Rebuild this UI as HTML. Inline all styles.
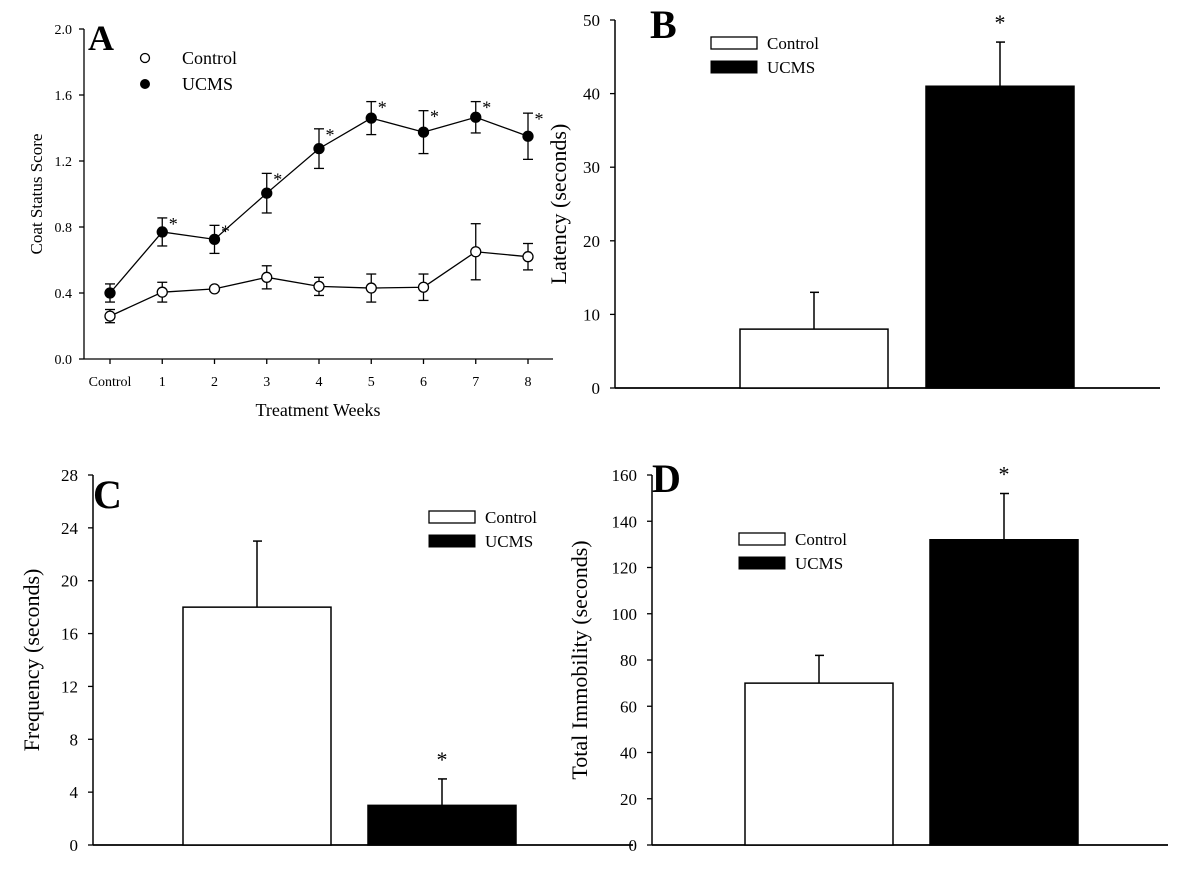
<!DOCTYPE html>
<html><head><meta charset="utf-8"><style>
html,body{margin:0;padding:0;background:#fff}
svg text{font-family:"Liberation Serif",serif;fill:#000}
</style></head><body>
<svg id="s" width="1200" height="874" xmlns="http://www.w3.org/2000/svg"></svg>
<script>
// Panel A data
const weeks = ["Control","1","2","3","4","5","6","7","8"];
const aTicks = [0.0,0.4,0.8,1.2,1.6,2.0];
const ctrlMean = [0.26,0.405,0.425,0.495,0.44,0.43,0.435,0.65,0.62];
const ctrlErr  = [0.04,0.06,0.015,0.07,0.055,0.085,0.08,0.17,0.08];
const ucmsMean = [0.40,0.77,0.725,1.005,1.275,1.46,1.375,1.465,1.35];
const ucmsErr  = [0.055,0.085,0.085,0.12,0.12,0.10,0.13,0.095,0.14];
const ucmsSig  = [false,true,true,true,true,true,true,true,true];
// Panel B
const bVals=[8,41], bErr=[5,6], bTicks=[0,10,20,30,40,50];
// Panel C
const cVals=[18,3], cErr=[5,2], cTicks=[0,4,8,12,16,20,24,28];
// Panel D
const dVals=[70,132], dErr=[12,20], dTicks=[0,20,40,60,80,100,120,140,160];

const NS="http://www.w3.org/2000/svg", S=document.getElementById('s');
function el(tag,attrs,parent,text){const e=document.createElementNS(NS,tag);for(const k in attrs)e.setAttribute(k,attrs[k]);if(text!==undefined)e.textContent=text;(parent||S).appendChild(e);return e;}
function line(x1,y1,x2,y2,p,w){return el('line',{x1,y1,x2,y2,stroke:'#000','stroke-width':w||1.3},p);}

// ---- Panel A ----
const gA=el('g',{});


const ax0=84, ay0=359, ay1=29, axEnd=553;
const xA=i=>110+i*52.25;
const yA=v=>ay0-(v/2.0)*(ay0-ay1);
line(ax0,ay1,ax0,ay0,gA);line(ax0,ay0,axEnd,ay0,gA);
aTicks.forEach(t=>{line(ax0-5,yA(t),ax0,yA(t),gA);const tx=el('text',{x:ax0-12,y:yA(t)+5,'font-size':14,'text-anchor':'end'},gA,t.toFixed(1));});
weeks.forEach((w,i)=>{line(xA(i),ay0,xA(i),ay0+5,gA);const tx=el('text',{x:xA(i),y:ay0+27,'font-size':14,'text-anchor':'middle'},gA,w);});
let t=el('text',{x:318,y:416,'font-size':18,'text-anchor':'middle'},gA,'Treatment Weeks');

t=el('text',{x:0,y:0,'font-size':17,'text-anchor':'middle',transform:'translate(42,194) rotate(-90)'},gA,'Coat Status Score');

function series(mean,err,fill,name){
  const g=el('g',{},gA);
  
  
  el('polyline',{points:mean.map((v,i)=>xA(i)+','+yA(v)).join(' '),fill:'none',stroke:'#000','stroke-width':1.3},g);
  mean.forEach((v,i)=>{const x=xA(i);line(x,yA(v+err[i]),x,yA(v-err[i]),g);line(x-5,yA(v+err[i]),x+5,yA(v+err[i]),g);line(x-5,yA(v-err[i]),x+5,yA(v-err[i]),g);});
  mean.forEach((v,i)=>{const c=el('circle',{cx:xA(i),cy:yA(v),r:5,fill:fill,stroke:'#000','stroke-width':1.3},g);});
  return g;
}
series(ctrlMean,ctrlErr,'#fff','control-series');
const gu=series(ucmsMean,ucmsErr,'#000','ucms-series');
ucmsMean.forEach((v,i)=>{if(ucmsSig[i]){const s=el('text',{x:xA(i)+11,y:yA(v+ucmsErr[i])+12,'font-size':18,'text-anchor':'middle'},gu,'*');}});
t=el('text',{x:88,y:50,'font-size':36,'font-weight':'bold'},gA,'A');
el('circle',{cx:145,cy:58,r:4.5,fill:'#fff',stroke:'#000','stroke-width':1.3},gA);
el('circle',{cx:145,cy:84,r:4.5,fill:'#000',stroke:'#000'},gA);
t=el('text',{x:182,y:64,'font-size':18},gA,'Control');
t=el('text',{x:182,y:90,'font-size':18},gA,'UCMS');

// ---- Bar panels ----
function barPanel(o){
  const g=el('g',{});
  
  
  const y=v=>o.y0-(v/o.max)*(o.y0-o.y1);
  line(o.x0,o.y1,o.x0,o.y0,g,1.5);line(o.x0,o.y0,o.xEnd,o.y0,g,1.8);
  o.ticks.forEach(tk=>{line(o.x0-5,y(tk),o.x0,y(tk),g);const tx=el('text',{x:o.x0-15,y:y(tk)+6,'font-size':17,'text-anchor':'end'},g,String(tk));});
  o.vals.forEach((v,i)=>{
    const bx=o.bx[i];
    const r=el('rect',{x:bx,y:y(v),width:148,height:o.y0-y(v),fill:i?'#000':'#fff',stroke:'#000','stroke-width':1.5},g);
    
    const cx=bx+74;
    line(cx,y(v),cx,y(v+o.err[i]),g,1.5);line(cx-4,y(v+o.err[i]),cx+5,y(v+o.err[i]),g,1.5);
    if(o.sig[i]){const s=el('text',{x:cx,y:y(v+o.err[i])-12,'font-size':22,'text-anchor':'middle'},g,'*');}
  });
  const tt=el('text',{x:0,y:0,'font-size':22,'text-anchor':'middle',transform:`translate(${o.titleX},${(o.y0+o.y1)/2}) rotate(-90)`},g,o.title);
  
  const pl=el('text',{x:o.labX,y:o.labY,'font-size':40,'font-weight':'bold'},g,o.label);
  
  el('rect',{x:o.legX,y:o.legY,width:46,height:12,fill:'#fff',stroke:'#000','stroke-width':1.3},g);
  el('rect',{x:o.legX,y:o.legY+24,width:46,height:12,fill:'#000',stroke:'#000'},g);
  let l=el('text',{x:o.legX+56,y:o.legY+12,'font-size':17},g,'Control');
  l=el('text',{x:o.legX+56,y:o.legY+36,'font-size':17},g,'UCMS');
}
barPanel({name:'panel-b',x0:615,xEnd:1160,y0:388,y1:20,max:50,ticks:bTicks,vals:bVals,err:bErr,sig:[false,true],bx:[740,926],title:'Latency (seconds)',titleX:566,label:'B',labX:650,labY:38,legX:711,legY:37});
barPanel({name:'panel-c',x0:93,xEnd:633,y0:845,y1:475,max:28,ticks:cTicks,vals:cVals,err:cErr,sig:[false,true],bx:[183,368],title:'Frequency (seconds)',titleX:39,label:'C',labX:93,labY:508,legX:429,legY:511});
barPanel({name:'panel-d',x0:652,xEnd:1168,y0:845,y1:475,max:160,ticks:dTicks,vals:dVals,err:dErr,sig:[false,true],bx:[745,930],title:'Total Immobility (seconds)',titleX:587,label:'D',labX:652,labY:492,legX:739,legY:533});
</script>
</body></html>
